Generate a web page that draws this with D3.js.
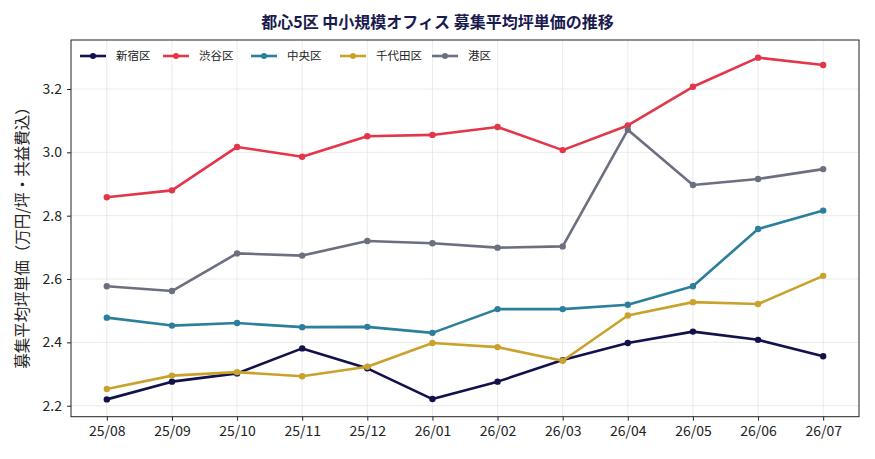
<!DOCTYPE html>
<html><head><meta charset="utf-8">
<script src="https://cdn.jsdelivr.net/npm/d3@7"></script>
<style>
html,body{margin:0;padding:0;background:#fff;}
text{font-family:"Noto Sans CJK JP","Noto Sans",sans-serif;}
</style></head>
<body><svg id="c" width="875" height="459"></svg>
<script>
const categories = ["25/08","25/09","25/10","25/11","25/12","26/01","26/02","26/03","26/04","26/05","26/06","26/07"];
const shinjuku = [2.220,2.276,2.302,2.381,2.318,2.221,2.276,2.344,2.398,2.434,2.408,2.356];
const shibuya  = [2.858,2.880,3.017,2.986,3.051,3.055,3.080,3.007,3.085,3.207,3.299,3.276];
const chuo     = [2.478,2.453,2.461,2.448,2.449,2.430,2.505,2.505,2.519,2.577,2.758,2.816];
const chiyoda  = [2.253,2.295,2.306,2.293,2.323,2.398,2.385,2.342,2.485,2.527,2.521,2.610];
const minato   = [2.577,2.562,2.681,2.674,2.720,2.713,2.699,2.703,3.071,2.897,2.916,2.947];
const seriesNames = ["新宿区","渋谷区","中央区","千代田区","港区"];
const yTicks = [2.2,2.4,2.6,2.8,3.0,3.2];
const titleText = "都心5区 中小規模オフィス 募集平均坪単価の推移";
const yLabel = "募集平均坪単価（万円/坪・共益費込）";

const series = [
  {name: seriesNames[0], values: shinjuku, color: "#11114b"},
  {name: seriesNames[1], values: shibuya,  color: "#e3364a"},
  {name: seriesNames[2], values: chuo,     color: "#2b7f9b"},
  {name: seriesNames[3], values: chiyoda,  color: "#c9a22c"},
  {name: seriesNames[4], values: minato,   color: "#6b6f80"}
];

const L = 71, R = 859, T = 40, B = 416.7;
const svg = d3.select("#c");
const x = d3.scalePoint().domain(categories).range([L, R]).padding(0.55);
const y = d3.scaleLinear().domain([2.1653, 3.3547]).range([B, T]);

// grid
const g = svg.append("g");
g.selectAll(".gx").data(categories).enter().append("line")
  .attr("x1", d => x(d)).attr("x2", d => x(d)).attr("y1", T).attr("y2", B)
  .attr("stroke", "#e6e6e6").attr("stroke-width", 0.8);
g.selectAll(".gy").data(yTicks).enter().append("line")
  .attr("x1", L).attr("x2", R).attr("y1", d => y(d)).attr("y2", d => y(d))
  .attr("stroke", "#e6e6e6").attr("stroke-width", 0.8);

// axes
const xa = svg.append("g").attr("transform", `translate(0,${B})`)
  .call(d3.axisBottom(x).tickSize(4).tickPadding(5));
const ya = svg.append("g").attr("transform", `translate(${L},0)`)
  .call(d3.axisLeft(y).tickValues(yTicks).tickFormat(d3.format(".1f")).tickSize(4).tickPadding(5));
[xa, ya].forEach(a => {
  a.select(".domain").remove();
  a.selectAll("text").attr("font-size", 14).attr("fill", "#222")
    .style("font-family", '"Noto Sans CJK JP","Noto Sans",sans-serif');
  a.selectAll("line").attr("stroke", "#222");
});

// frame
svg.append("rect").attr("x", L).attr("y", T).attr("width", R - L).attr("height", B - T)
  .attr("fill", "none").attr("stroke", "#222").attr("stroke-width", 1);

// lines
const line = d3.line().x((d, i) => x(categories[i])).y(d => y(d));
series.forEach(s => {
  svg.append("path").datum(s.values).attr("d", line)
    .attr("fill", "none").attr("stroke", s.color).attr("stroke-width", 2.6)
    .attr("stroke-linejoin", "round");
  svg.selectAll(null).data(s.values).enter().append("circle")
    .attr("cx", (d, i) => x(categories[i])).attr("cy", d => y(d)).attr("r", 3.2)
    .attr("fill", s.color);
});

// legend
const legX = [80, 163, 251, 340, 432];
const leg = svg.append("g");
series.forEach((s, i) => {
  const lx = legX[i], ly = 56;
  leg.append("line").attr("x1", lx).attr("x2", lx + 26).attr("y1", ly).attr("y2", ly)
    .attr("stroke", s.color).attr("stroke-width", 2.6);
  leg.append("circle").attr("cx", lx + 13).attr("cy", ly).attr("r", 3).attr("fill", s.color);
  leg.append("text").attr("x", lx + 36).attr("y", ly + 4).attr("font-size", 11.5)
    .attr("fill", "#222").text(s.name);
});

// title
svg.append("text").attr("x", 437.5).attr("y", 28).attr("text-anchor", "middle")
  .attr("font-size", 16).attr("font-weight", "bold").attr("fill", "#1a1a4e").text(titleText);

// y label
svg.append("text").attr("transform", `translate(28,234) rotate(-90)`)
  .attr("text-anchor", "middle").attr("font-size", 15.5).attr("fill", "#222").text(yLabel);
</script></body></html>
